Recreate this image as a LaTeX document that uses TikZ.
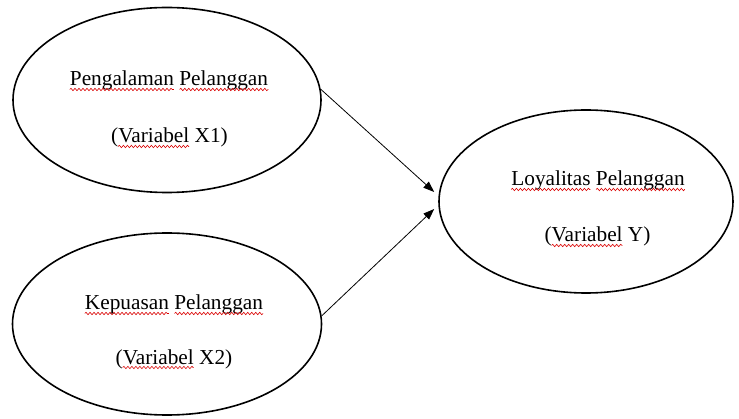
\documentclass[tikz,border=0pt]{standalone}
\usepackage{fontspec}
\setmainfont{Liberation Serif}
\usepackage{xcolor}
\usetikzlibrary{arrows.meta,shapes.geometric,decorations.pathmorphing}
\tikzset{
  varell/.style={ellipse, draw=black, line width=1.6pt, inner sep=0pt},
  vartext/.style={anchor=base, inner sep=0pt, font=\fontsize{21.3}{25}\selectfont},
  link/.style={draw=black, line width=0.8pt, -{Triangle[length=11pt,width=8pt]}},
  squig/.style={draw=red!85!black, line width=0.6pt, decorate,
    decoration={snake, amplitude=1.2pt, segment length=4pt}}
}
\begin{document}
\begin{tikzpicture}[x=1pt,y=1pt]
\fontsize{21.3}{25}\selectfont
\pgfmathsetmacro\wParen{width("(")}
\pgfmathsetmacro\wVar{width("Variabel")}
\pgfmathsetmacro\wPeng{width("Pengalaman")}
\pgfmathsetmacro\wPel{width("Pelanggan")}
\pgfmathsetmacro\wKep{width("Kepuasan")}
\pgfmathsetmacro\wLoy{width("Loyalitas")}
\useasboundingbox (0,0) rectangle (739,418);
\node[varell, minimum width=308pt, minimum height=185pt] (e1) at (167,318) {};
\node[varell, minimum width=309pt, minimum height=182pt] (e2) at (167,94) {};
\node[varell, minimum width=294pt, minimum height=183pt] (e3) at (586,216.5) {};
\node[vartext] (t1a) at (169,332) {Pengalaman Pelanggan};
\node[vartext] (t1b) at (169.5,275) {(Variabel X1)};
\node[vartext] (t2a) at (174,108) {Kepuasan Pelanggan};
\node[vartext] (t2b) at (174,54) {(Variabel X2)};
\node[vartext] (t3a) at (598,232) {Loyalitas Pelanggan};
\node[vartext] (t3b) at (597.5,176) {(Variabel Y)};
% spell-check underlines
\draw[squig] ([yshift=-3.5pt]t1a.base west) -- ++(\wPeng,0);
\draw[squig] ([xshift=-\wPel pt,yshift=-3.5pt]t1a.base east) -- ++(\wPel,0);
\draw[squig] ([xshift=\wParen pt,yshift=-3.5pt]t1b.base west) -- ++(\wVar,0);
\draw[squig] ([yshift=-3.5pt]t2a.base west) -- ++(\wKep,0);
\draw[squig] ([xshift=-\wPel pt,yshift=-3.5pt]t2a.base east) -- ++(\wPel,0);
\draw[squig] ([xshift=\wParen pt,yshift=-3.5pt]t2b.base west) -- ++(\wVar,0);
\draw[squig] ([yshift=-3.5pt]t3a.base west) -- ++(\wLoy,0);
\draw[squig] ([xshift=-\wPel pt,yshift=-3.5pt]t3a.base east) -- ++(\wPel,0);
\draw[squig] ([xshift=\wParen pt,yshift=-3.5pt]t3b.base west) -- ++(\wVar,0);
% connectors
\coordinate (tip1) at ([shift={(-4,9.5)}]e3.west);
\coordinate (tip2) at ([shift={(-4,-7.5)}]e3.west);
\draw[link] (e1.4) -- (tip1);
\draw[link] (e2.3) -- (tip2);
\end{tikzpicture}
\end{document}
